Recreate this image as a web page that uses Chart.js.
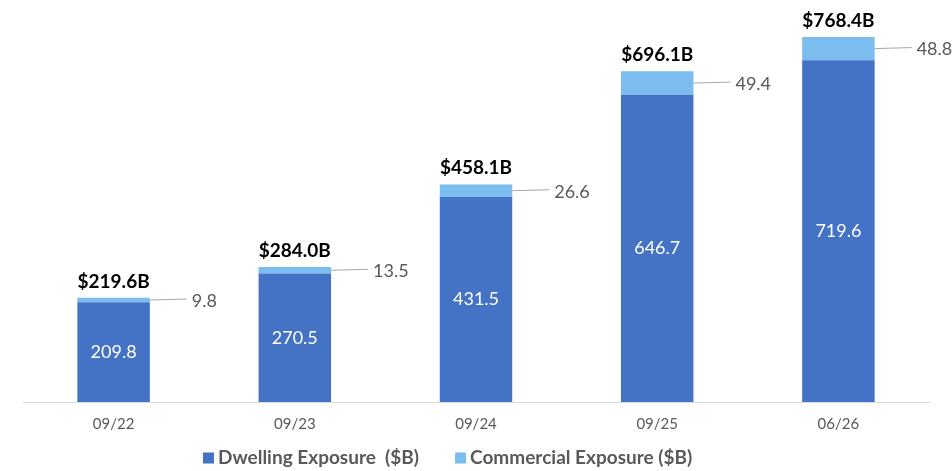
<!DOCTYPE html>
<html>
<head>
<meta charset="utf-8">
<script src="https://cdn.jsdelivr.net/npm/chart.js@4"></script>
<style>
  html, body { margin: 0; padding: 0; background: #fff; }
  #wrap { width: 952px; height: 471px; }
</style>
</head>
<body>
<div id="wrap"><canvas id="graf"></canvas></div>
<script>
const periods = ['09/22', '09/23', '09/24', '09/25', '06/26'];
const dwelling = [209.8, 270.5, 431.5, 646.7, 719.6];
const commercial = [9.8, 13.5, 26.6, 49.4, 48.8];
const totals = ['$219.6B', '$284.0B', '$458.1B', '$696.1B', '$768.4B'];

const FONT = "Lato, 'Open Sans', sans-serif";

// labels: white inside dwelling, leader line for commercial, bold total on top
const valueLabels = {
    id: 'valueLabels',
    afterDatasetsDraw(chart) {
        const ctx = chart.ctx;
        const dMeta = chart.getDatasetMeta(0);
        const cMeta = chart.getDatasetMeta(1);
        ctx.save();
        dMeta.data.forEach((bar, i) => {
            ctx.font = '18px ' + FONT;
            ctx.fillStyle = '#ffffff';
            ctx.textAlign = 'center';
            ctx.textBaseline = 'middle';
            ctx.fillText(dwelling[i].toFixed(1), bar.x, (bar.y + bar.base) / 2);
        });
        cMeta.data.forEach((bar, i) => {
            const right = bar.x + bar.width / 2;
            const midY = (bar.y + bar.base) / 2;
            ctx.strokeStyle = '#a6a6a6';
            ctx.lineWidth = 1;
            ctx.beginPath();
            ctx.moveTo(right, midY);
            ctx.lineTo(right + 37, midY - 1);
            ctx.stroke();
            ctx.font = '18px ' + FONT;
            ctx.fillStyle = '#595959';
            ctx.textAlign = 'left';
            ctx.textBaseline = 'middle';
            ctx.fillText(commercial[i].toFixed(1), right + 42, midY + 1);

            ctx.font = 'bold 19px ' + FONT;
            ctx.fillStyle = '#000000';
            ctx.textAlign = 'center';
            ctx.textBaseline = 'alphabetic';
            ctx.fillText(totals[i], bar.x, bar.y - 10);
        });
        ctx.restore();
    },
    // legend drawn by hand to get the spacing of the original
    afterDraw(chart) {
        const ctx = chart.ctx;
        ctx.save();
        ctx.font = 'bold 19px ' + FONT;
        ctx.textBaseline = 'middle';
        ctx.textAlign = 'left';
        let x = 203;
        const y = 458;
        chart.data.datasets.forEach(ds => {
            ctx.fillStyle = ds.backgroundColor;
            ctx.fillRect(x, y - 5.5, 11, 11);
            ctx.fillStyle = '#595959';
            ctx.fillText(ds.label, x + 15, y);
            x += 15 + ctx.measureText(ds.label).width + 36;
        });
        ctx.restore();
    }
};

new Chart(document.getElementById('graf').getContext('2d'), {
    type: 'bar',
    data: {
        labels: periods,
        datasets: [{
            label: 'Dwelling Exposure  ($B)',
            data: dwelling,
            backgroundColor: '#4472C4'
        },
        {
            label: 'Commercial Exposure ($B)',
            data: commercial,
            backgroundColor: '#7ABDEE'
        }]
    },
    options: {
        responsive: true,
        maintainAspectRatio: false,
        animation: false,
        categoryPercentage: 1,
        barPercentage: 0.4,
        layout: { padding: { left: 23, right: 23, top: 22, bottom: 33 } },
        scales: {
            x: {
                stacked: true,
                grid: { display: false },
                border: { color: '#d9d9d9', width: 1 },
                ticks: { color: '#595959', font: { family: FONT, size: 15 }, padding: 5 }
            },
            y: {
                stacked: true,
                display: false,
                min: 0,
                max: 800
            }
        },
        plugins: {
            legend: { display: false },
            tooltip: { enabled: false }
        }
    },
    plugins: [valueLabels]
});
</script>
</body>
</html>
